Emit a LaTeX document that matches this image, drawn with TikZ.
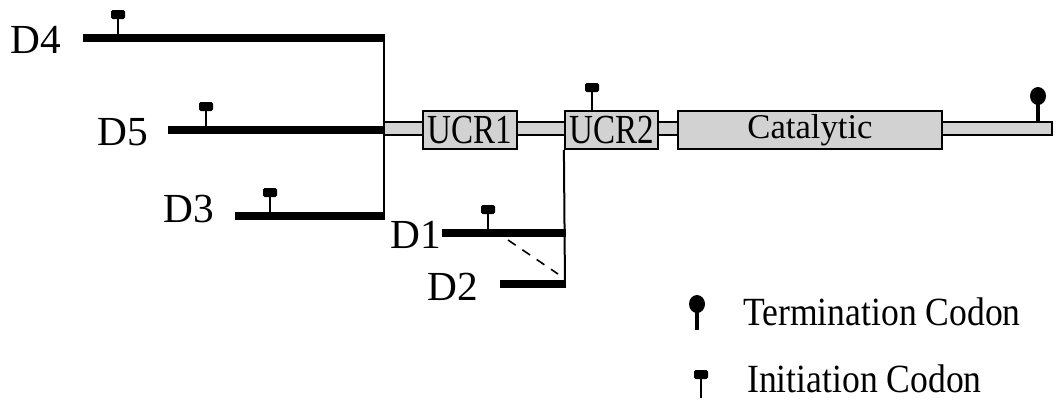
\documentclass[tikz,border=0pt]{standalone}
\usepackage{fontspec}
\setmainfont{Liberation Serif}
\newfontfamily\legfont[FakeStretch=0.89]{Liberation Serif}
\newfontfamily\boxfont[FakeStretch=0.8]{Liberation Serif}
\usepackage{tikz}
\usetikzlibrary{positioning,calc}

\begin{document}
\begin{tikzpicture}[
  x=0.75pt, y=-0.75pt,
  bar/.style={line width=6pt},
  link/.style={line width=1.5pt},
  gene/.style={draw, line width=1.1pt, fill=gray!35},
  region/.style={draw, line width=1.4pt, fill=gray!35, inner sep=0pt,
                 minimum height=28.5pt},
  lbl/.style={font=\fontsize{31}{31}\selectfont, anchor=base west, inner sep=0pt},
  leg/.style={font=\legfont\fontsize{30}{30}\selectfont, anchor=base west, inner sep=0pt},
  pics/initc/.style={code={
      \draw[line width=2.2pt] (0,0) -- (0,-20);
      \fill[rounded corners=1.2pt] (-7,-19) rectangle (7,-28);}},
  pics/termc/.style={code={
      \draw[line width=2.4pt] (0,0) -- (0,-18);
      \fill (0,-26) ellipse [x radius=8, y radius=9];}},
]
\useasboundingbox (0,0) rectangle (1063,405);

% Gene
\draw[gene] (384,122) rectangle (1052,135);
\node[region, minimum width=70.5pt] (UCR1) at (470,130) {\boxfont\fontsize{31}{31}\selectfont UCR1};
\node[region, minimum width=70pt] (UCR2) at (611.5,130) {\boxfont\fontsize{31}{31}\selectfont UCR2};
\node[region, minimum width=198pt] (CAT) at (810,130) {\fontsize{26}{26}\selectfont Catalytic};
\pic at (1038,122) {termc};
\pic at (592,111) {initc};

% Deletion variants
\coordinate (d4a) at (83,38);   \coordinate (d4b) at (385,38);
\coordinate (d5a) at (168,130); \coordinate (d5b) at (385,130);
\coordinate (d3a) at (235,216); \coordinate (d3b) at (385,216);
\coordinate (d1a) at (442,233); \coordinate (d1b) at (566,233);
\coordinate (d2a) at (500,284); \coordinate (d2b) at (566,284);

\draw[bar] (d4a) -- (d4b);
\draw[bar] (d5a) -- (d5b);
\draw[bar] (d3a) -- (d3b);
\draw[bar] (d1a) -- (d1b);
\draw[bar] (d2a) -- (d2b);

\draw[link] ($(d4b)+(-1,-3)$) -- ($(d3b)+(-1,3)$);
\draw[link] (UCR2.south west) -- ($(d2b)+(-1,3)$);

\coordinate (dsh1) at (508,240);
\coordinate (dsh2) at (558,274);
\draw[line width=1.2pt, dash pattern=on 7pt off 6pt] (dsh1) -- (dsh2);

\pic at (118,38) {initc};
\pic at (206,130) {initc};
\pic at (270,216) {initc};
\pic at (488,233) {initc};

\node[lbl] (D4) at (10,53) {D4};
\node[lbl] (D5) at (97,145) {D5};
\node[lbl] (D3) at (163,222) {D3};
\node[lbl] (D1) at (390,248) {D1};
\node[lbl] (D2) at (427,300) {D2};

% Legend
\pic at (697,330) {termc};
\pic at (701,398) {initc};
\node[leg] (TC) at (743,325) {Termination Codon};
\node[leg] (IC) at (747,392) {Initiation Codon};
\end{tikzpicture}
\end{document}
